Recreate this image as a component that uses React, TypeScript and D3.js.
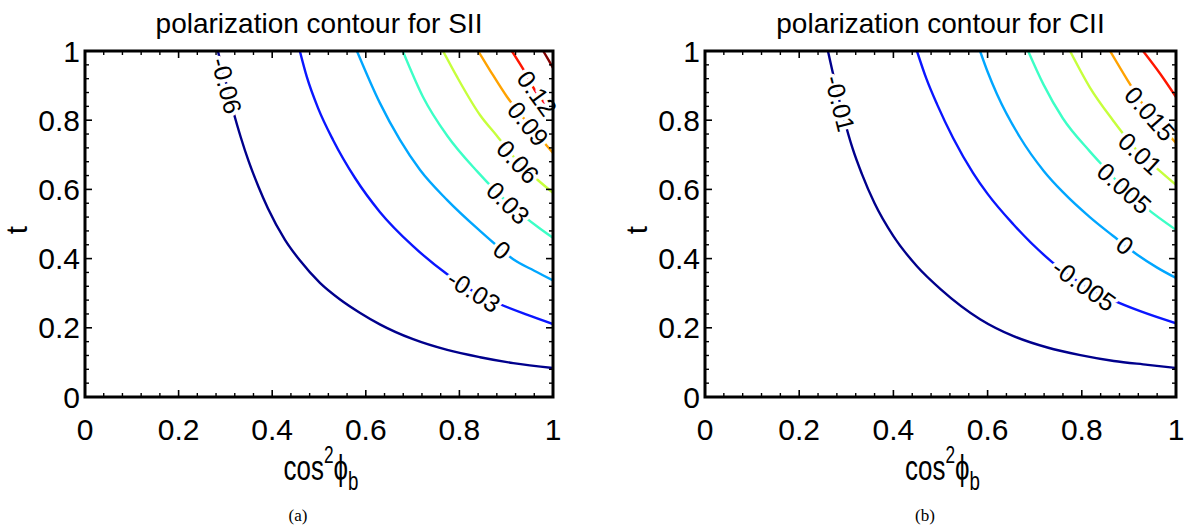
import React from "react";
import * as d3 from "d3";

type Pt = [number, number];

// ---------- axis ticks ----------
const majorTicks = [0, 0.2, 0.4, 0.6, 0.8, 1];
const majorTickLabels = ["0", "0.2", "0.4", "0.6", "0.8", "1"];
const minorTicks = [0.04, 0.08, 0.12, 0.16, 0.24, 0.28, 0.32, 0.36, 0.44, 0.48, 0.52, 0.56, 0.64, 0.68, 0.72, 0.76, 0.84, 0.88, 0.92, 0.96];

// jet-like contour colours, low -> high
const jetColors = ["#00008c", "#0a16ff", "#00a6ff", "#3cffc6", "#c6ff3c", "#ffa200", "#ff1600", "#820000"];

// ---------- SII contours (x = cos^2 phi_b, y = t) ----------
const siiLevels = [-0.06, -0.03, 0, 0.03, 0.06, 0.09, 0.12, 0.15];
const siiLabelText = ["-0.06", "-0.03", "0", "0.03", "0.06", "0.09", "0.12", ""];
const siiLabelAt = [0.303, 0.831, 0.891, 0.904, 0.925, 0.947, 0.966, -1];

const siiM006: Pt[] = [[0.284, 1.0], [0.293, 0.95], [0.305, 0.89], [0.318, 0.82], [0.333, 0.75], [0.35, 0.68], [0.37, 0.61], [0.391, 0.545], [0.427, 0.455], [0.459, 0.395], [0.502, 0.33], [0.545, 0.282], [0.588, 0.243], [0.63, 0.21], [0.701, 0.167], [0.774, 0.136], [0.844, 0.115], [0.915, 0.098], [1.0, 0.084]];
const siiM003: Pt[] = [[0.459, 1.0], [0.474, 0.925], [0.498, 0.835], [0.53, 0.743], [0.577, 0.633], [0.63, 0.535], [0.701, 0.436], [0.774, 0.355], [0.844, 0.295], [0.887, 0.268], [0.944, 0.238], [1.0, 0.211]];
const siiZero: Pt[] = [[0.581, 1.0], [0.63, 0.85], [0.673, 0.743], [0.716, 0.656], [0.774, 0.569], [0.844, 0.48], [0.882, 0.435], [0.915, 0.398], [0.96, 0.365], [1.0, 0.337]];
const siiP003: Pt[] = [[0.679, 1.0], [0.722, 0.868], [0.774, 0.755], [0.838, 0.652], [0.908, 0.556], [0.972, 0.487], [1.0, 0.46]];
const siiP006: Pt[] = [[0.765, 1.0], [0.795, 0.925], [0.844, 0.815], [0.88, 0.755], [0.925, 0.68], [0.965, 0.63], [1.0, 0.59]];
const siiP009: Pt[] = [[0.84, 1.0], [0.865, 0.945], [0.902, 0.867], [0.947, 0.79], [0.975, 0.745], [1.0, 0.705]];
const siiP012: Pt[] = [[0.912, 1.0], [0.944, 0.93], [0.962, 0.885], [0.985, 0.845], [1.0, 0.821]];
const siiP015: Pt[] = [[0.979, 1.0], [0.99, 0.975], [1.0, 0.951]];

// ---------- CII contours ----------
const ciiLevels = [-0.01, -0.005, 0, 0.005, 0.01, 0.015, 0.02];
const ciiLabelText = ["-0.01", "-0.005", "0", "0.005", "0.01", "0.015", ""];
const ciiLabelAt = [0.287, 0.805, 0.892, 0.89, 0.924, 0.945, -1];

const ciiM001: Pt[] = [[0.261, 1.0], [0.27, 0.945], [0.282, 0.875], [0.296, 0.8], [0.313, 0.72], [0.333, 0.645], [0.36, 0.56], [0.4, 0.465], [0.45, 0.378], [0.5, 0.312], [0.584, 0.225], [0.655, 0.176], [0.727, 0.143], [0.797, 0.121], [0.868, 0.104], [0.94, 0.093], [1.0, 0.084]];
const ciiM0005: Pt[] = [[0.45, 1.0], [0.47, 0.92], [0.493, 0.845], [0.527, 0.748], [0.569, 0.648], [0.6, 0.587], [0.654, 0.5], [0.737, 0.39], [0.811, 0.318], [0.866, 0.28], [0.924, 0.248], [1.0, 0.213]];
const ciiZero: Pt[] = [[0.584, 1.0], [0.6, 0.94], [0.62, 0.875], [0.669, 0.75], [0.72, 0.652], [0.76, 0.592], [0.817, 0.52], [0.866, 0.466], [0.917, 0.412], [0.96, 0.374], [1.0, 0.344]];
const ciiP0005: Pt[] = [[0.686, 1.0], [0.718, 0.905], [0.76, 0.805], [0.817, 0.71], [0.849, 0.662], [0.883, 0.612], [0.938, 0.545], [1.0, 0.483]];
const ciiP001: Pt[] = [[0.775, 1.0], [0.817, 0.895], [0.866, 0.8], [0.919, 0.71], [0.96, 0.66], [1.0, 0.613]];
const ciiP0015: Pt[] = [[0.86, 1.0], [0.896, 0.918], [0.936, 0.833], [0.981, 0.763], [1.0, 0.734]];
const ciiP002: Pt[] = [[0.93, 1.0], [0.966, 0.935], [1.0, 0.867]];

const siiLines = [siiM006, siiM003, siiZero, siiP003, siiP006, siiP009, siiP012, siiP015];
const ciiLines = [ciiM001, ciiM0005, ciiZero, ciiP0005, ciiP001, ciiP0015, ciiP002];

const FONT = "'Liberation Sans', Arial, Helvetica, sans-serif";

function interpT(pts: Pt[], X: number): number {
  for (let i = 0; i < pts.length - 1; i++) {
    const a = pts[i], b = pts[i + 1];
    if (X >= a[0] && X <= b[0]) {
      const f = (X - a[0]) / (b[0] - a[0] || 1);
      return a[1] + f * (b[1] - a[1]);
    }
  }
  return pts[pts.length - 1][1];
}

interface PanelProps {
  id: string;
  x0: number; x1: number; y0: number; y1: number;
  title: string;
  lines: Pt[][];
  levels: number[];
  labelText: string[];
  labelAt: number[];
  caption: string;
  captionX: number;
}

function Panel(p: PanelProps) {
  const xs = d3.scaleLinear().domain([0, 1]).range([p.x0, p.x1]);
  const ys = d3.scaleLinear().domain([0, 1]).range([p.y1, p.y0]);
  const line = d3.line<Pt>().x(d => xs(d[0])).y(d => ys(d[1])).curve(d3.curveMonotoneX);
  const cx = (p.x0 + p.x1) / 2;
  const cy = (p.y0 + p.y1) / 2;
  const majLen = 7, minLen = 4;

  const labels = p.levels.map((lv, i) => {
    const X = p.labelAt[i];
    if (X < 0 || !p.labelText[i]) return null;
    const pts = p.lines[i];
    const T = interpT(pts, X);
    const d = 0.006;
    const xa = Math.max(pts[0][0], X - d), xb = Math.min(1, X + d);
    const ang = Math.atan2(ys(interpT(pts, xb)) - ys(interpT(pts, xa)), xs(xb) - xs(xa)) * 180 / Math.PI;
    return (
      <text key={"l" + i} transform={`translate(${xs(X)},${ys(T)}) rotate(${ang})`}
        textAnchor="middle" dominantBaseline="central" fontSize={25} fontFamily={FONT}
        fill="#000" stroke="#fff" strokeWidth={7} paintOrder="stroke" strokeLinejoin="round">
        {p.labelText[i]}
      </text>
    );
  });

  return (
    <g>
      <defs>
        <clipPath id={p.id}>
          <rect x={p.x0} y={p.y0} width={p.x1 - p.x0} height={p.y1 - p.y0} />
        </clipPath>
      </defs>
      <text x={cx} y={33} textAnchor="middle" fontSize={28} fontFamily={FONT}>{p.title}</text>
      <g clipPath={`url(#${p.id})`}>
        {p.lines.map((pts, i) => (
          <path key={"c" + i} d={line(pts) || ""} fill="none" stroke={jetColors[i]} strokeWidth={2.4} strokeLinejoin="round" />
        ))}
      </g>
      {labels}
      {majorTicks.map(t => (
        <g key={"mt" + t} stroke="#000" strokeWidth={1.6}>
          <line x1={xs(t)} x2={xs(t)} y1={p.y1} y2={p.y1 - majLen} />
          <line x1={xs(t)} x2={xs(t)} y1={p.y0} y2={p.y0 + majLen} />
          <line x1={p.x0} x2={p.x0 + majLen} y1={ys(t)} y2={ys(t)} />
          <line x1={p.x1} x2={p.x1 - majLen} y1={ys(t)} y2={ys(t)} />
        </g>
      ))}
      {minorTicks.map(t => (
        <g key={"nt" + t} stroke="#000" strokeWidth={1.4}>
          <line x1={xs(t)} x2={xs(t)} y1={p.y1} y2={p.y1 - minLen} />
          <line x1={xs(t)} x2={xs(t)} y1={p.y0} y2={p.y0 + minLen} />
          <line x1={p.x0} x2={p.x0 + minLen} y1={ys(t)} y2={ys(t)} />
          <line x1={p.x1} x2={p.x1 - minLen} y1={ys(t)} y2={ys(t)} />
        </g>
      ))}
      <rect x={p.x0} y={p.y0} width={p.x1 - p.x0} height={p.y1 - p.y0} fill="none" stroke="#000" strokeWidth={3} />
      {majorTicks.map((t, i) => (
        <text key={"yl" + t} x={p.x0 - 5} y={ys(t)} textAnchor="end" dominantBaseline="central" fontSize={30} fontFamily={FONT}>{majorTickLabels[i]}</text>
      ))}
      {majorTicks.map((t, i) => (
        <text key={"xl" + t} x={xs(t)} y={440} textAnchor="middle" fontSize={30} fontFamily={FONT}>{majorTickLabels[i]}</text>
      ))}
      <text transform={`translate(${p.x0 - 58},${cy + 6}) rotate(-90)`} textAnchor="middle" fontSize={30} fontFamily={FONT}>t</text>
      <g transform={`translate(${cx + 2},480) scale(0.72,1)`}>
        <text textAnchor="middle" fontSize={36} fontFamily={FONT}>
          cos<tspan fontSize={24} dy={-17}>2</tspan><tspan fontSize={36} dy={17}>ϕ</tspan><tspan fontSize={26} dy={10}>b</tspan>
        </text>
      </g>
      <text x={p.captionX} y={521} textAnchor="middle" fontSize={17} fontFamily="'Liberation Serif', 'Times New Roman', serif">{p.caption}</text>
    </g>
  );
}

export default function App() {
  return (
    <svg width={1186} height={529} viewBox="0 0 1186 529" style={{ display: "block", position: "absolute", left: 0, top: 0, background: "#fff" }}>
      <rect x={0} y={0} width={1186} height={529} fill="#fff" />
      <Panel id="clipA" x0={85} x1={553} y0={51} y1={397} title="polarization contour for SII"
        lines={siiLines} levels={siiLevels} labelText={siiLabelText} labelAt={siiLabelAt} caption="(a)" captionX={298} />
      <Panel id="clipB" x0={705} x1={1176} y0={51} y1={397} title="polarization contour for CII"
        lines={ciiLines} levels={ciiLevels} labelText={ciiLabelText} labelAt={ciiLabelAt} caption="(b)" captionX={925} />
    </svg>
  );
}
